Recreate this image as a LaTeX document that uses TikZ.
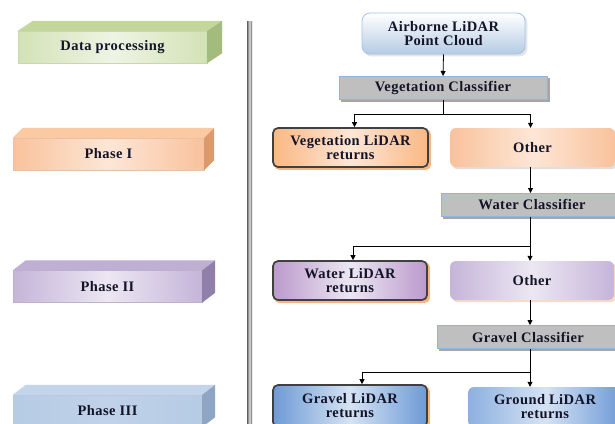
\documentclass[tikz,border=0pt]{standalone}
\usepackage{fontspec}
\newfontfamily\lbl{Liberation Serif}[LetterSpace=3]
\usetikzlibrary{arrows.meta,backgrounds}
\definecolor{grTop}{HTML}{C3D69B}\definecolor{grSide}{HTML}{A3BC7E}\definecolor{grA}{HTML}{D3E2B6}\definecolor{grB}{HTML}{EEF4E4}
\definecolor{orTop}{HTML}{FBC9A2}\definecolor{orSide}{HTML}{D89A6E}\definecolor{orA}{HTML}{F9C29C}\definecolor{orB}{HTML}{FDE6D6}
\definecolor{puTop}{HTML}{BFAFD3}\definecolor{puSide}{HTML}{907FA9}\definecolor{puA}{HTML}{C5B5D9}\definecolor{puB}{HTML}{ECE7F2}
\definecolor{blTop}{HTML}{C3D5EA}\definecolor{blSide}{HTML}{8FA5C4}\definecolor{blA}{HTML}{B6CBE4}\definecolor{blB}{HTML}{BFD2E9}
\definecolor{blDark}{HTML}{6E9AD6}\definecolor{blLight}{HTML}{D5E3F4}
\definecolor{clsBorder}{HTML}{8EB4E3}\definecolor{clsFill}{HTML}{BFBFBF}
\definecolor{resBorder}{HTML}{404040}
\definecolor{txtcol}{HTML}{141428}
\newcommand\phasebar[8]{%
  \node[barfront,minimum width=#3,#5] (#1) at #2 {#8};
  \fill[#6] (#1.north west) -- ([shift={(#4,-10)}]#1.north west) -- ([shift={(#4,-10)}]#1.north east) -- (#1.north east) -- cycle;
  \fill[#7] (#1.north east) -- ([shift={(#4,-10)}]#1.north east) -- ([shift={(#4,-10)}]#1.south east) -- (#1.south east) -- cycle;
}
\newcommand\shad[3]{\fill[#3, rounded corners=#2] ([shift={(2,2)}]#1.north west) rectangle ([shift={(2,2)}]#1.south east);}
\begin{document}
\begin{tikzpicture}[x=1pt,y=-1pt,
  txt/.style={font=\lbl\fontsize{14.5}{14}\selectfont\bfseries, text=txtcol, align=center},
  barfront/.style={txt, rectangle, minimum height=32, inner sep=0},
  cls/.style={txt, rectangle, fill=clsFill, draw=clsBorder, line width=1pt, minimum height=23, inner sep=0},
  res/.style={txt, rectangle, rounded corners=5pt, draw=resBorder, line width=1.7pt, inner sep=0},
  oth/.style={txt, rectangle, rounded corners=6pt, inner sep=0},
  arr/.style={-{Triangle[length=5pt,width=5pt]}, line width=0.8pt},
  ln/.style={line width=0.8pt}]
\useasboundingbox (0,0) rectangle (615,423);
\clip (0,0) rectangle (615,423);

% left phase bars
\phasebar{dp}{(112.5,47)}{189}{15}{left color=grA, right color=grA, middle color=grB, draw=grSide!60, line width=0.4pt}{grTop}{grSide}{Data processing}
\phasebar{p1}{(108.5,154)}{191}{10}{left color=orA, right color=orA, middle color=orB, draw=orSide!60, line width=0.4pt}{orTop}{orSide}{Phase I}
\phasebar{p2}{(107.5,286.5)}{189}{13}{left color=puA, right color=puA, middle color=puB, draw=puSide!60, line width=0.4pt}{puTop}{puSide}{Phase II}
\phasebar{p3}{(107.5,411)}{189}{13}{left color=blA, right color=blA, middle color=blB, draw=blSide!60, line width=0.4pt}{blTop}{blSide}{Phase III}

% separator
\shade[left color=gray!75!black, right color=gray!75!black, middle color=gray!25] (247,21) rectangle (252,423);

% right flow
\node[txt, rectangle, rounded corners=8pt, top color=white, bottom color=blA, draw=clsBorder!80, line width=0.8pt,
  minimum width=163, minimum height=41, inner sep=0] (air) at (443.5,33.5) {Airborne LiDAR\\Point Cloud};
\node[cls, minimum width=208] (vc) at (443,88) {Vegetation Classifier};
\node[res, minimum width=155, minimum height=39, left color=orA!85!orange, right color=orA!85!orange, middle color=orB] (veg) at (350.5,147.5) {Vegetation LiDAR\\returns};
\node[oth, minimum width=165, minimum height=39, left color=orA, right color=orA, middle color=orB] (o1) at (532.5,147.5) {Other};
\node[cls, minimum width=182] (wc) at (532,205) {Water Classifier};
\node[res, minimum width=154, minimum height=39, left color=puA!85!violet, right color=puA!85!violet, middle color=puB] (wat) at (350,280.5) {Water LiDAR\\returns};
\node[oth, minimum width=164, minimum height=39, left color=puA, right color=puA, middle color=puB] (o2) at (532,280.5) {Other};
\node[cls, minimum width=182] (gc) at (528,337) {Gravel Classifier};
\node[res, minimum width=154, minimum height=42, left color=blDark, right color=blDark, middle color=blLight] (grav) at (350,406) {Gravel LiDAR\\returns};
\node[oth, minimum width=154, minimum height=40, left color=blDark!70!blLight, right color=blDark, middle color=blLight] (grd) at (545,407) {Ground LiDAR\\returns};

% shadows and background
\begin{scope}[on background layer]
  \fill[white] (0,0) rectangle (615,423);
  \shad{vc}{0pt}{gray!70}
  \shad{wc}{0pt}{gray!70}
  \shad{gc}{0pt}{gray!70}
  \shad{veg}{5pt}{orA!80!orange}
  \shad{wat}{5pt}{orA!80!orange}
  \shad{grav}{5pt}{orA!80!orange}
  \shad{o1}{6pt}{gray!25}
  \shad{o2}{6pt}{orA!60}
  \shad{air}{8pt}{gray!20}
\end{scope}

% connectors
\draw[arr] (air.south) -- (vc.north);
\coordinate (j1) at (443,114);
\draw[ln] (vc.south) -- (j1);
\draw[arr] (j1) -| ([xshift=4pt]veg.north);
\draw[arr] (j1) -| ([xshift=-2pt]o1.north);
\draw[arr] ([xshift=-2pt]o1.south) -- ([xshift=-2pt]o1.south |- wc.north);
\coordinate (j2) at (530,246);
\draw[arr] ([xshift=-2pt]wc.south) -- ([xshift=-2pt]o2.north);
\draw[arr] (j2) -| ([xshift=3pt]wat.north);
\draw[arr] ([xshift=-2pt]o2.south) -- ([xshift=-2pt]o2.south |- gc.north);
\coordinate (j3) at (530,372);
\draw[ln] ([xshift=2pt]gc.south) -- (j3);
\draw[arr] (j3) -- (j3 |- grd.north);
\draw[arr] (j3) -| ([xshift=12pt]grav.north);
\end{tikzpicture}
\end{document}
